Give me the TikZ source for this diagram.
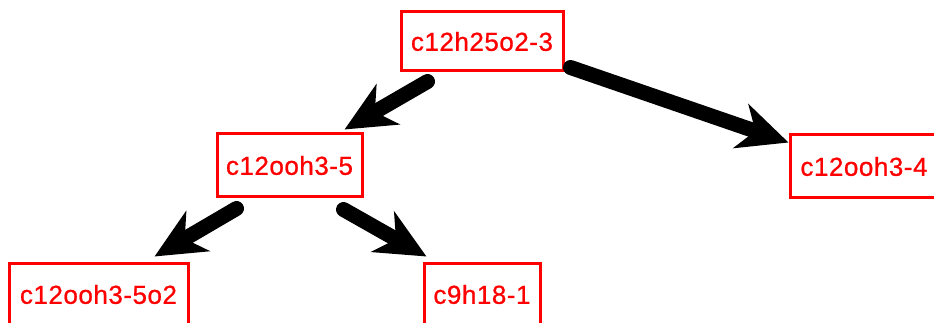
\documentclass[tikz,border=0pt]{standalone}
\usepackage{fontspec}
\setmainfont{Liberation Sans}[FakeBold=0.8, LetterSpace=2]
\usetikzlibrary{arrows.meta}

\tikzset{
  species/.style={draw=red, line width=3pt, fill=white, text=red,
    font=\fontsize{26}{30}\selectfont, inner sep=0pt, anchor=center},
  flux/.style={line width=15pt, line cap=round, draw=black,
    -{Stealth[length=50pt, width=46pt, inset=15pt]}}
}

\begin{document}
\begin{tikzpicture}[x=1pt, y=1pt]
  \useasboundingbox (0,0) rectangle (934,-323);
  \clip (0,0) rectangle (934,-323);

  % species boxes
  \node[species, minimum width=162pt, minimum height=59pt] (top)  at (482,-41.5)  {c12h25o2-3};
  \node[species, minimum width=145pt, minimum height=63pt] (n5)   at (289.5,-165.5) {c12ooh3-5};
  \node[species, minimum width=148pt, minimum height=63pt] (n4)   at (864,-166.5) {c12ooh3-4};
  \node[species, minimum width=179pt, minimum height=63pt] (n5o2) at (98.5,-294.5) {c12ooh3-5o2};
  \node[species, minimum width=116pt, minimum height=63pt] (n9)   at (482,-294.5) {c9h18-1};

  % reaction fluxes
  \draw[flux] ([shift={(28,-9)}]top.south west) -- ([shift={(-19,3)}]n5.north east);
  \draw[flux] ([shift={(6,5)}]top.south east) -- ([shift={(0,-9)}]n4.north west);
  \draw[flux] ([shift={(21,-10)}]n5.south west) -- ([shift={(-35,5)}]n5o2.north east);
  \draw[flux] ([shift={(-20,-11)}]n5.south east) -- ([shift={(4,5)}]n9.north west);
\end{tikzpicture}
\end{document}
